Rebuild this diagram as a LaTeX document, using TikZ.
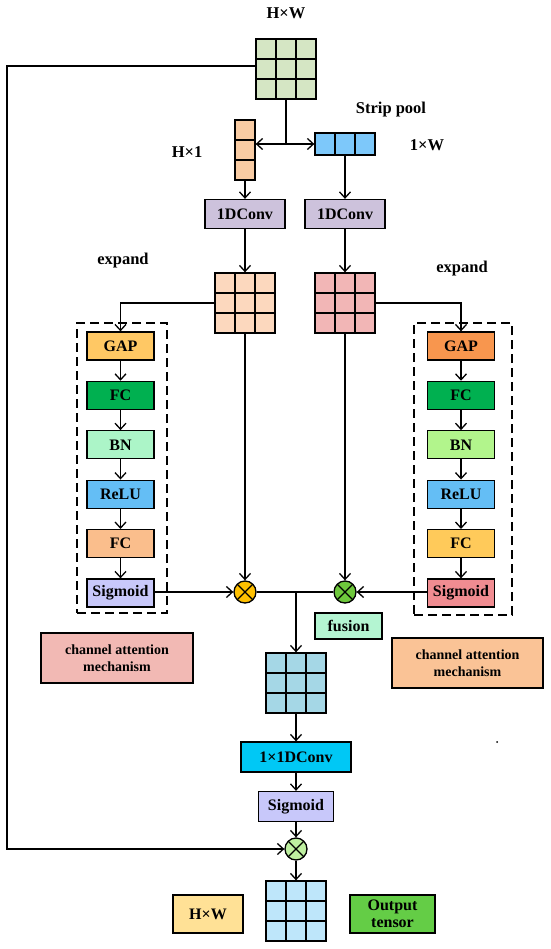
\documentclass[tikz,border=0pt]{standalone}
\usepackage{fontspec}
\setmainfont{Liberation Serif}
\usetikzlibrary{arrows.meta,calc}
\definecolor{cTop}{RGB}{213,230,196}
\definecolor{cStripH}{RGB}{248,203,163}
\definecolor{cStripW}{RGB}{125,200,250}
\definecolor{cConv}{RGB}{205,194,220}
\definecolor{cLgrid}{RGB}{252,216,190}
\definecolor{cRgrid}{RGB}{242,182,182}
\definecolor{cLgap}{RGB}{255,200,100}
\definecolor{cRgap}{RGB}{248,150,78}
\definecolor{cFC}{RGB}{0,176,80}
\definecolor{cLbn}{RGB}{172,245,200}
\definecolor{cRbn}{RGB}{178,245,140}
\definecolor{cRelu}{RGB}{100,190,245}
\definecolor{cLfc}{RGB}{250,190,140}
\definecolor{cRfc}{RGB}{255,202,90}
\definecolor{cLsig}{RGB}{200,200,250}
\definecolor{cRsig}{RGB}{240,140,145}
\definecolor{cLot}{RGB}{255,192,0}
\definecolor{cRot}{RGB}{110,200,60}
\definecolor{cBot}{RGB}{190,240,160}
\definecolor{cFusion}{RGB}{180,245,210}
\definecolor{cLca}{RGB}{242,185,180}
\definecolor{cRca}{RGB}{250,195,150}
\definecolor{cMgrid}{RGB}{165,215,230}
\definecolor{cConvB}{RGB}{0,200,245}
\definecolor{cBgrid}{RGB}{190,230,250}
\definecolor{cHW}{RGB}{255,225,150}
\definecolor{cOut}{RGB}{100,205,70}
\tikzset{
  lw/.style={line width=1.3pt},
  conn/.style={lw,-{Straight Barb[length=6pt,width=11pt,line width=1.3pt]}},
  plain/.style={lw},
  box/.style={draw,lw,inner sep=0pt,align=center,font=\fontsize{16}{17}\selectfont\bfseries},
  lbl/.style={inner sep=0pt,font=\fontsize{16.5}{18}\selectfont\bfseries},
  grid3/.style={draw,lw,inner sep=0pt,minimum width=60pt,minimum height=60pt,
    path picture={
      \foreach \t in {1/3,2/3}{
        \draw[lw] ($(path picture bounding box.north west)!\t!(path picture bounding box.north east)$) --
                  ($(path picture bounding box.south west)!\t!(path picture bounding box.south east)$);
        \draw[lw] ($(path picture bounding box.north west)!\t!(path picture bounding box.south west)$) --
                  ($(path picture bounding box.north east)!\t!(path picture bounding box.south east)$);
      }}},
  colstrip/.style={draw,lw,inner sep=0pt,minimum width=20pt,minimum height=60pt,
    path picture={
      \foreach \t in {1/3,2/3}{
        \draw[lw] ($(path picture bounding box.north west)!\t!(path picture bounding box.south west)$) --
                  ($(path picture bounding box.north east)!\t!(path picture bounding box.south east)$);
      }}},
  rowstrip/.style={draw,lw,inner sep=0pt,minimum width=60pt,minimum height=22pt,
    path picture={
      \foreach \t in {1/3,2/3}{
        \draw[lw] ($(path picture bounding box.north west)!\t!(path picture bounding box.north east)$) --
                  ($(path picture bounding box.south west)!\t!(path picture bounding box.south east)$);
      }}},
  otimesnode/.style={circle,draw,lw,inner sep=0pt,minimum size=22pt,
    path picture={
      \draw[lw] (path picture bounding box.north west) -- (path picture bounding box.south east);
      \draw[lw] (path picture bounding box.north east) -- (path picture bounding box.south west);
    }},
  blk/.style={box,minimum width=67pt,minimum height=28pt},
  cabox/.style={box,minimum height=50pt,font=\fontsize{14}{17.5}\selectfont\bfseries},
  dashbox/.style={draw,lw,dash pattern=on 9pt off 5pt,inner sep=0pt},
}
\begin{document}
\begin{tikzpicture}[x=1pt,y=-1pt]
\useasboundingbox (0,0) rectangle (550,949);
% top
\node[lbl] (lblTop) at (286,13) {H×W};
\node[grid3,fill=cTop] (topgrid) at (286,69) {};
\node[colstrip,fill=cStripH] (striph) at (245,150) {};
\node[rowstrip,fill=cStripW] (stripw) at (345,144) {};
\node[lbl] (lblH1) at (187,152) {H×1};
\node[lbl] (lblSP) at (391,110) {Strip pool};
\node[lbl] (lbl1W) at (427,145) {1×W};
\coordinate (split) at (286,144);
\draw[plain] (topgrid.south) -- (split);
\draw[conn] (split) -- (split -| striph.east);
\draw[conn] (split) -- (stripw.west);
% convs
\node[box,fill=cConv,minimum width=80pt,minimum height=29pt] (conv1) at (245,214) {1DConv};
\node[box,fill=cConv,minimum width=80pt,minimum height=29pt] (conv2) at (345,214) {1DConv};
\draw[conn] (striph.south) -- (conv1.north);
\draw[conn] (stripw.south) -- (conv2.north);
% expanded grids
\node[grid3,fill=cLgrid] (lgrid) at (245,303) {};
\node[grid3,fill=cRgrid] (rgrid) at (345,303) {};
\draw[conn] (conv1.south) -- (lgrid.north);
\draw[conn] (conv2.south) -- (rgrid.north);
\node[lbl] (lblExpL) at (123,261) {expand};
\node[lbl] (lblExpR) at (462,269) {expand};
% dashed boxes
\node[dashbox,minimum width=90pt,minimum height=290pt] (ldash) at (122,468) {};
\node[dashbox,minimum width=98pt,minimum height=292pt] (rdash) at (463,469) {};
% left column
\node[blk,fill=cLgap] (lgap) at (120.5,346) {GAP};
\node[blk,fill=cFC] (lfc1) at (120.5,395.4) {FC};
\node[blk,fill=cLbn] (lbn) at (120.5,444.8) {BN};
\node[blk,fill=cRelu] (lrelu) at (120.5,494.2) {ReLU};
\node[blk,fill=cLfc] (lfc2) at (120.5,543.6) {FC};
\node[blk,fill=cLsig] (lsig) at (120.5,593) {Sigmoid};
% right column
\node[blk,fill=cRgap] (rgap) at (461,346) {GAP};
\node[blk,fill=cFC] (rfc1) at (461,395.4) {FC};
\node[blk,fill=cRbn] (rbn) at (461,444.8) {BN};
\node[blk,fill=cRelu] (rrelu) at (461,494.2) {ReLU};
\node[blk,fill=cRfc] (rfc2) at (461,543.6) {FC};
\node[blk,fill=cRsig] (rsig) at (461,593) {Sigmoid};
\draw[conn] (lgrid.west) -| (lgap.north);
\draw[conn] (rgrid.east) -| (rgap.north);
\foreach \a/\b in {lgap/lfc1,lfc1/lbn,lbn/lrelu,lrelu/lfc2,lfc2/lsig,rgap/rfc1,rfc1/rbn,rbn/rrelu,rrelu/rfc2,rfc2/rsig}
  \draw[conn] (\a.south) -- (\b.north);
% multiplications
\node[otimesnode,fill=cLot] (lot) at (245,592) {};
\node[otimesnode,fill=cRot] (rot) at (345,592) {};
\draw[conn] (lgrid.south) -- (lot.north);
\draw[conn] (rgrid.south) -- (rot.north);
\draw[conn] (lsig.east |- lot) -- (lot.west);
\draw[conn] (rsig.west |- rot) -- (rot.east);
\draw[plain] (lot.east) -- (rot.west);
\coordinate (junc) at (296,592);
\node[box,fill=cFusion,minimum width=67pt,minimum height=26pt] (fusion) at (348.5,626) {fusion};
\node[cabox,fill=cLca,minimum width=152pt] (lca) at (117,658) {channel attention\\mechanism};
\node[cabox,fill=cRca,minimum width=151pt] (rca) at (467.5,663) {channel attention\\mechanism};
% middle
\node[grid3,fill=cMgrid] (mgrid) at (296,683) {};
\draw[conn] (junc) -- (mgrid.north);
\node[box,fill=cConvB,minimum width=110pt,minimum height=30pt] (conv3) at (296,757) {1×1DConv};
\node[box,fill=cLsig,minimum width=75pt,minimum height=30pt] (bsig) at (296,806.5) {Sigmoid};
\node[otimesnode,fill=cBot] (bot) at (296,849) {};
\node[grid3,fill=cBgrid] (bgrid) at (296,911) {};
\draw[conn] (mgrid.south) -- (conv3.north);
\draw[conn] (conv3.south) -- (bsig.north);
\draw[conn] (bsig.south) -- (bot.north);
\draw[conn] (bot.south) -- (bgrid.north);
% skip connection
\coordinate (leftrail) at (7,66);
\draw[conn] (topgrid.west |- leftrail) -- (leftrail) |- (bot.west);
% bottom legend
\node[box,fill=cHW,minimum width=70pt,minimum height=38pt] (hwbox) at (208,914) {H×W};
\node[box,fill=cOut,minimum width=85pt,minimum height=38pt,font=\fontsize{16}{17}\selectfont\bfseries] (outbox) at (392.5,914) {Output\\tensor};
% stray dot
\fill (497,742) circle (1pt);
\end{tikzpicture}
\end{document}
